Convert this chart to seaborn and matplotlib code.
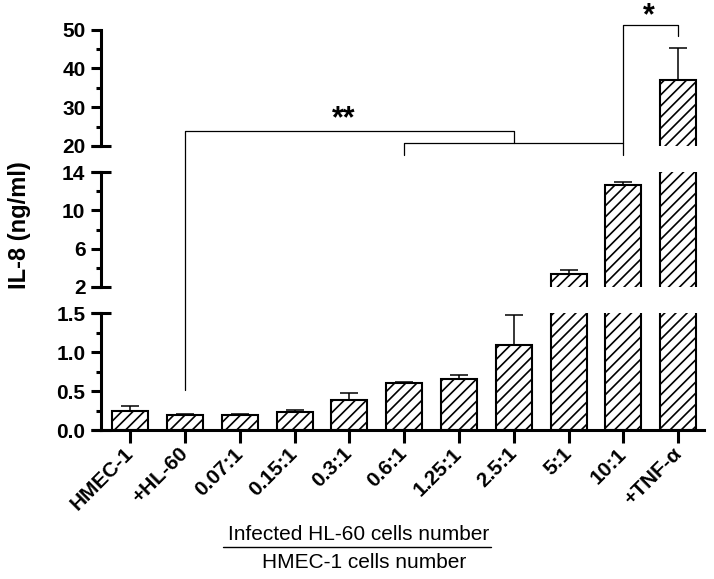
import matplotlib
matplotlib.use("Agg")
import matplotlib.pyplot as plt
import matplotlib.transforms as mtransforms
from matplotlib.lines import Line2D
import numpy as np
import seaborn as sns

# data
categories = ["HMEC-1", "+HL-60", "0.07:1", "0.15:1", "0.3:1", "0.6:1",
              "1.25:1", "2.5:1", "5:1", "10:1", "+TNF-α"]
il8_mean = [0.24, 0.19, 0.19, 0.23, 0.39, 0.60, 0.65, 1.09, 3.36, 12.6, 37.1]
il8_err = [0.07, 0.01, 0.01, 0.03, 0.08, 0.02, 0.05, 0.38, 0.40, 0.40, 8.2]

# broken y axis segments: (ylim, major ticks, minor ticks, pixel top, pixel bottom)
segments = [
    ((20, 50), [20, 30, 40, 50], [25, 35, 45], 29.5, 146),
    ((2, 14), [2, 6, 10, 14], [4, 8, 12], 172, 287),
    ((0, 1.5), [0.0, 0.5, 1.0, 1.5], [0.25, 0.75, 1.25], 313, 430),
]
tick_fmt = ["{:.0f}", "{:.0f}", "{:.1f}"]

W, H = 714, 579
sns.set_style("ticks")
plt.rcParams["font.family"] = ["Liberation Sans", "DejaVu Sans"]
plt.rcParams["hatch.linewidth"] = 1.2
plt.rcParams["hatch.color"] = "black"
for key in ["text.color", "axes.labelcolor", "xtick.color", "ytick.color",
            "axes.edgecolor"]:
    plt.rcParams[key] = "black"

fig = plt.figure(figsize=(W / 100, H / 100), dpi=100)
left_px, right_px = 101, 704

axes = []
for i, (ylim, major, minor, top_px, bot_px) in enumerate(segments):
    ax = fig.add_axes([left_px / W, 1 - bot_px / H,
                       (right_px - left_px) / W, (bot_px - top_px) / H])
    sns.barplot(x=categories, y=il8_mean, ax=ax, color="white", saturation=1,
                edgecolor="black", linewidth=1.5, width=0.657, errorbar=None,
                hatch="///")
    ax.errorbar(range(len(categories)), il8_mean,
                yerr=[np.zeros(len(il8_err)), il8_err], fmt="none",
                ecolor="black", elinewidth=1.1, capsize=6.5, capthick=1.1)
    ax.set_xlim(-0.53, 10.47)
    ax.set_ylim(*ylim)
    ax.set_yticks(major)
    ax.set_yticks(minor, minor=True)
    ax.set_yticklabels([tick_fmt[i].format(v) for v in major],
                       fontsize=15, fontweight="bold")
    ax.tick_params(axis="y", which="major", length=7.2, width=2.2, pad=4)
    ax.tick_params(axis="y", which="minor", length=3.6, width=2.2)
    ax.set_xlabel("")
    ax.set_ylabel("")
    ax.patch.set_alpha(0)
    for s in ["top", "right"]:
        ax.spines[s].set_visible(False)
    ax.spines["left"].set_linewidth(2.2)
    if i < 2:
        ax.spines["bottom"].set_visible(False)
        ax.tick_params(axis="x", bottom=False, labelbottom=False)
    # caps at the break ends of the spine
    yt = ax.get_yaxis_transform()
    ends = [ylim[0]] if i == 0 else list(ylim)
    for v in ends:
        ax.plot([0], [v], marker="_", markersize=14, markeredgewidth=2.2,
                color="black", transform=yt, clip_on=False)
    axes.append(ax)

ax_bot = axes[-1]
ax_bot.spines["bottom"].set_linewidth(2.2)
ax_bot.tick_params(axis="x", length=9, width=2.2, pad=6)
ax_bot.set_xticks(range(len(categories)))
ax_bot.set_xticklabels(categories, rotation=45, ha="right", va="center",
                       rotation_mode="anchor", fontsize=15, fontweight="bold")

fig.text(20 / W, 1 - 225 / H, "IL-8 (ng/ml)", rotation=90, ha="center",
         va="center", fontsize=17, fontweight="bold")

# significance brackets: x in category units, y in figure pixels
tr = mtransforms.blended_transform_factory(ax_bot.transData, fig.transFigure)


def bracket(xs, ys_px):
    fig.add_artist(Line2D(xs, [1 - y / H for y in ys_px], color="black",
                          linewidth=0.9, transform=tr))


bracket([1, 1, 7, 7], [390, 131, 131, 143])
bracket([5, 5, 9, 9], [155, 143, 143, 155])
bracket([9, 9, 10, 10], [143, 25, 25, 36])
fig.text(3.89, 1 - 119 / H, "**", transform=tr, ha="center", va="center",
         fontsize=22, fontweight="bold")
fig.text(9.47, 1 - 16 / H, "*", transform=tr, ha="center", va="center",
         fontsize=22, fontweight="bold")

# ratio caption under the x axis
fig.text(359 / W, 1 - 534 / H, "Infected HL-60 cells number", ha="center",
         va="center", fontsize=15)
fig.add_artist(Line2D([223 / W, 491 / W], [1 - 547 / H, 1 - 547 / H],
                      color="black", linewidth=1.0))
fig.text(364 / W, 1 - 563 / H, "HMEC-1 cells number", ha="center",
         va="center", fontsize=15)

fig.savefig("out.png", dpi=100)
